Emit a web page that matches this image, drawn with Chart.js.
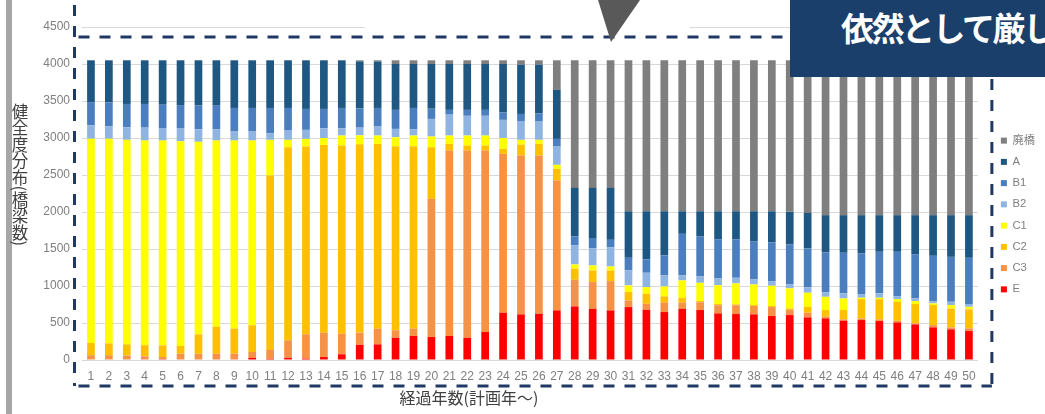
<!DOCTYPE html>
<html lang="ja">
<head>
<meta charset="utf-8">
<script src="https://cdn.jsdelivr.net/npm/chart.js@4/dist/chart.umd.min.js"></script>
<style>
  html, body { margin: 0; padding: 0; background: #fff; }
  #wrap { position: relative; width: 1045px; height: 414px; overflow: hidden; }
  #chart { position: absolute; left: 0; top: 0; }
  .strip { position: absolute; left: 6px; top: 0; width: 6px; height: 414px; background: #a6a6a6; }
  #ytitle { position: absolute; left: 12px; top: 103px; writing-mode: vertical-rl;
            font: 16.5px/16px "Noto Sans CJK JP", sans-serif; color: #404040; }
  #xtitle { position: absolute; left: 469px; top: 387px; transform: translateX(-50%);
            font: 16px/20px "Noto Sans CJK JP", sans-serif; color: #404040; white-space: nowrap; }
  .mask { position: absolute; left: 365px; top: 0; width: 325px; height: 34px; background: #fff; }
  .arrow { position: absolute; left: 598px; top: 0; width: 42px; height: 42px; background: #595959;
           clip-path: polygon(0 0, 100% 0, 31% 100%); }
  .banner { position: absolute; left: 790px; top: 0; width: 255px; height: 77px; background: #1b3f6b;
            overflow: hidden; }
  .banner span { position: absolute; left: 51px; top: 11px; font: 700 33px/33px "Noto Sans CJK JP", sans-serif;
                 letter-spacing: -2.5px; color: #fff; white-space: nowrap; }
</style>
</head>
<body>
<div id="wrap">
  <canvas id="chart" width="1045" height="414"></canvas>
  <div class="strip"></div>
  <div id="ytitle">健全度分布(橋梁数)</div>
  <div id="xtitle">経過年数(計画年～)</div>
  <div class="mask"></div>
  <div class="arrow"></div>
  <div class="banner"><span>依然として厳し</span></div>
</div>
<script>
// 経過年数
const years = ['1','2','3','4','5','6','7','8','9','10',
  '11','12','13','14','15','16','17','18','19','20',
  '21','22','23','24','25','26','27','28','29','30',
  '31','32','33','34','35','36','37','38','39','40',
  '41','42','43','44','45','46','47','48','49','50'];

const yTicks = [0, 500, 1000, 1500, 2000, 2500, 3000, 3500, 4000, 4500];

// 健全度ごとの橋梁数(下から積み上げ)
const E  = [0, 0, 0, 0, 10, 0, 0, 0, 0, 30,
  15, 30, 18, 40, 77, 205, 211, 300, 324, 310,
  324, 300, 378, 639, 616, 625, 670, 724, 693, 670,
  715, 679, 648, 693, 675, 630, 621, 617, 594, 607,
  576, 562, 531, 540, 526, 508, 481, 441, 414, 391];
const C3 = [65, 65, 60, 50, 30, 85, 85, 85, 85, 78,
  120, 235, 328, 329, 278, 165, 212, 100, 99, 1868,
  2506, 2530, 2452, 2146, 2147, 2138, 1755, 360, 360, 396,
  90, 81, 126, 81, 105, 110, 119, 113, 121, 73,
  62, 22, 18, 22, 23, 23, 14, 31, 27, 37];
const C2 = [165, 160, 152, 150, 158, 105, 261, 365, 340, 362,
  2358, 2610, 2539, 2538, 2543, 2545, 2497, 2489, 2466, 697,
  90, 68, 68, 68, 148, 157, 158, 149, 157, 144,
  113, 135, 85, 63, 16, 16, 12, 12, 14, 17,
  81, 91, 126, 261, 274, 256, 261, 270, 256, 256];
const C1 = [2760, 2765, 2763, 2765, 2767, 2765, 2602, 2515, 2540, 2495,
  482, 100, 103, 93, 135, 121, 113, 121, 144, 145,
  113, 135, 135, 147, 64, 55, 54, 58, 68, 54,
  90, 90, 135, 238, 247, 256, 283, 279, 274, 271,
  190, 179, 157, 18, 18, 36, 40, 23, 45, 35];
const B2 = [180, 170, 170, 175, 170, 180, 170, 150, 122, 122,
  89, 125, 122, 132, 99, 104, 122, 113, 87, 238,
  283, 267, 267, 245, 247, 247, 247, 257, 234, 261,
  202, 194, 149, 68, 91, 90, 76, 68, 63, 58,
  72, 59, 68, 50, 59, 41, 36, 31, 45, 37];
const B1 = [315, 320, 315, 320, 315, 310, 320, 330, 319, 319,
  342, 306, 283, 261, 274, 260, 251, 257, 286, 138,
  64, 80, 80, 103, 103, 112, 104, 122, 126, 99,
  171, 180, 270, 562, 539, 531, 518, 517, 522, 535,
  526, 540, 549, 548, 562, 598, 598, 612, 607, 625];
const A  = [565, 570, 590, 590, 600, 605, 612, 605, 644, 644,
  644, 644, 657, 657, 644, 635, 629, 620, 594, 604,
  620, 620, 620, 652, 666, 657, 662, 656, 688, 702,
  629, 651, 597, 305, 337, 377, 381, 404, 422, 441,
  481, 504, 508, 518, 495, 495, 527, 549, 563, 576];
const HAIKYO = [0, 0, 0, 0, 0, 0, 0, 0, 0, 0,
  0, 0, 0, 0, 0, 15, 15, 50, 50, 50,
  50, 50, 50, 50, 59, 59, 400, 1724, 1724, 1724,
  2040, 2040, 2040, 2040, 2040, 2040, 2040, 2040, 2040, 2048,
  2062, 2093, 2093, 2093, 2093, 2093, 2093, 2093, 2093, 2093];

const series = [
  { label: 'E',  data: E,  color: '#ff0000' },
  { label: 'C3', data: C3, color: '#f59245' },
  { label: 'C2', data: C2, color: '#ffc000' },
  { label: 'C1', data: C1, color: '#ffff00' },
  { label: 'B2', data: B2, color: '#8fb4e1' },
  { label: 'B1', data: B1, color: '#4a7ebf' },
  { label: 'A',  data: A,  color: '#1e5781' },
  { label: '廃橋', data: HAIKYO, color: '#7f7f7f' }
];

const tickFont = { family: '"Liberation Sans", "Noto Sans CJK JP", sans-serif', size: 12 };

// 点線の枠
const frame = {
  id: 'frame',
  afterDraw(chart) {
    const { ctx, chartArea: a } = chart;
    const l = a.left - 7.5, t = a.top + 10, r = a.right + 14, b = a.bottom + 26;
    ctx.save();
    ctx.strokeStyle = '#1f3864';
    ctx.lineWidth = 3;
    ctx.setLineDash([11, 10]);
    ctx.beginPath();
    ctx.moveTo(l, 5); ctx.lineTo(l, b);
    ctx.moveTo(l + 4, t); ctx.lineTo(r, t);
    ctx.moveTo(r, t); ctx.lineTo(r, b);
    ctx.moveTo(l + 4, b); ctx.lineTo(r, b);
    ctx.stroke();
    ctx.restore();
  }
};

new Chart(document.getElementById('chart'), {
  type: 'bar',
  data: {
    labels: years,
    datasets: series.map(s => ({
      label: s.label,
      data: s.data,
      backgroundColor: s.color,
      borderWidth: 0,
      barPercentage: 0.43,
      categoryPercentage: 1
    }))
  },
  plugins: [frame],
  options: {
    responsive: false,
    animation: false,
    events: [],
    layout: { padding: { top: 27, bottom: 11, left: 0, right: 0 } },
    plugins: {
      tooltip: { enabled: false },
      legend: {
        position: 'right',
        align: 'center',
        reverse: true,
        labels: {
          boxWidth: 6, boxHeight: 6, padding: 10,
          color: '#7f7f7f',
          font: { family: '"Liberation Sans", "Noto Sans CJK JP", sans-serif', size: 11.25 }
        }
      }
    },
    scales: {
      x: {
        stacked: true,
        grid: { display: false, drawTicks: false },
        border: { display: false },
        ticks: { autoSkip: false, maxRotation: 0, padding: 9, color: '#7f7f7f', font: tickFont },
        afterFit: s => { s.height = 43; }
      },
      y: {
        stacked: true,
        min: 0, max: 4500,
        grid: { color: '#d9d9d9', drawTicks: false },
        border: { display: false },
        ticks: { padding: 12, color: '#7f7f7f', font: tickFont, callback: v => String(v) },
        afterBuildTicks: s => { s.ticks = yTicks.map(v => ({ value: v })); },
        afterFit: s => { s.width = 82; }
      },
      gap: {
        position: 'right',
        grid: { display: false },
        border: { display: false },
        ticks: { display: false },
        afterFit: s => { s.width = 13; }
      }
    }
  }
});
</script>
</body>
</html>
